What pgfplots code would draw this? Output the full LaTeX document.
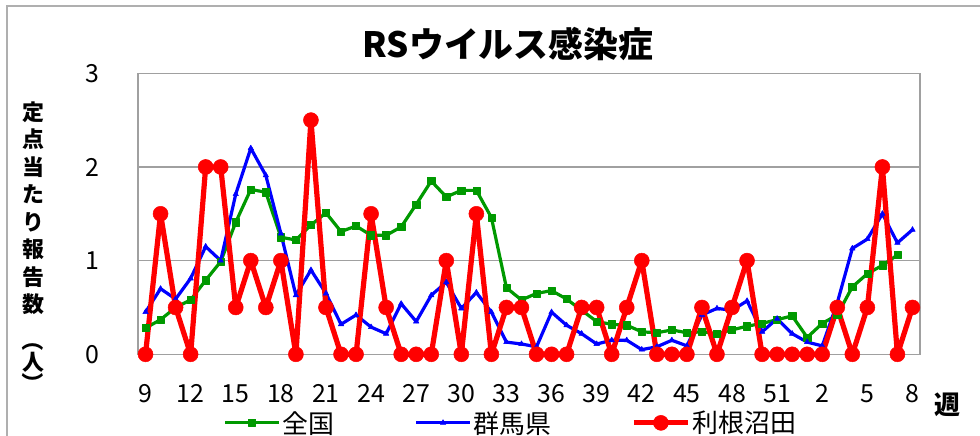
\documentclass[border=0pt]{standalone}
\usepackage{fontspec}
\setmainfont{Noto Sans CJK JP}
\usepackage{pgfplots}
\pgfplotsset{compat=1.18}
\definecolor{cgreen}{RGB}{0,153,0}
\definecolor{cblue}{RGB}{0,0,255}
\definecolor{cred}{RGB}{255,0,0}
\definecolor{cgrid}{RGB}{160,160,160}
\definecolor{cframe}{RGB}{175,175,175}
\begin{document}
\begin{tikzpicture}
\useasboundingbox (0bp,0bp) rectangle (980bp,436bp);
\draw[cframe, line width=1.5bp] (7bp,-5bp) -- (7bp,430bp) -- (990bp,430bp);
\begin{axis}[
  at={(138bp,81.7bp)}, anchor=south west,
  scale only axis, width=782bp, height=281bp,
  xmin=-0.5, xmax=51.5, ymin=0, ymax=3,
  xtick={0,3,...,51},
  xticklabels={9,12,15,18,21,24,27,30,33,36,39,42,45,48,51,2,5,8},
  ytick={0,1,2,3},
  major tick length=0pt,
  ymajorgrids, major grid style={cgrid, line width=1.3bp},
  axis line style={cgrid, line width=1.3bp},
  /pgf/number format/assume math mode=true,
  tick label style={font=\fontsize{25}{25}\selectfont},
  xticklabel style={anchor=center, yshift=-39bp},
  yticklabel style={anchor=center, xshift=-46bp},
  clip=false,
  legend columns=3,
  legend style={at={(axis description cs:0.109,-0.244)}, anchor=west, draw=none, fill=none,
    inner sep=0pt, font=\fontsize{26}{26}\selectfont,
    /tikz/every even column/.append style={column sep=78bp}},
  legend image code/.code={\draw[mark repeat=2,mark phase=2,#1] plot coordinates {(0bp,0bp) (27bp,0bp) (54bp,0bp)};},
]
\addplot[cgreen, line width=3.2bp, line join=round, mark=square*, mark size=3.6bp, mark options={solid, line width=0.5bp}] coordinates {
(0,0.28)(1,0.37)(2,0.50)(3,0.58)(4,0.79)(5,0.99)(6,1.41)(7,1.76)(8,1.73)(9,1.25)
(10,1.22)(11,1.38)(12,1.51)(13,1.31)(14,1.37)(15,1.27)(16,1.27)(17,1.36)(18,1.60)(19,1.85)
(20,1.68)(21,1.75)(22,1.75)(23,1.46)(24,0.71)(25,0.58)(26,0.65)(27,0.68)(28,0.59)(29,0.47)
(30,0.35)(31,0.32)(32,0.31)(33,0.24)(34,0.23)(35,0.26)(36,0.23)(37,0.24)(38,0.22)(39,0.26)
(40,0.30)(41,0.33)(42,0.37)(43,0.41)(44,0.18)(45,0.33)(46,0.42)(47,0.72)(48,0.86)(49,0.95)
(50,1.06)};
\addlegendentry{全国}
\addplot[cblue, line width=3.2bp, line join=round, mark=triangle*, mark size=3.2bp, mark options={solid, line width=0.5bp}] coordinates {
(0,0.45)(1,0.70)(2,0.59)(3,0.81)(4,1.15)(5,1.00)(6,1.71)(7,2.20)(8,1.91)(9,1.29)
(10,0.63)(11,0.90)(12,0.65)(13,0.32)(14,0.42)(15,0.29)(16,0.22)(17,0.54)(18,0.35)(19,0.63)
(20,0.77)(21,0.49)(22,0.66)(23,0.45)(24,0.13)(25,0.11)(26,0.08)(27,0.45)(28,0.31)(29,0.22)
(30,0.11)(31,0.15)(32,0.15)(33,0.05)(34,0.08)(35,0.15)(36,0.09)(37,0.42)(38,0.49)(39,0.47)
(40,0.57)(41,0.24)(42,0.38)(43,0.22)(44,0.13)(45,0.09)(46,0.55)(47,1.13)(48,1.23)(49,1.50)
(50,1.19)(51,1.33)};
\addlegendentry{群馬県}
\addplot[cred, line width=5.2bp, line join=round, mark=*, mark size=7.5bp, mark options={solid, line width=0.5bp}] coordinates {
(0,0)(1,1.5)(2,0.5)(3,0)(4,2)(5,2)(6,0.5)(7,1)(8,0.5)(9,1)
(10,0)(11,2.5)(12,0.5)(13,0)(14,0)(15,1.5)(16,0.5)(17,0)(18,0)(19,0)
(20,1)(21,0)(22,1.5)(23,0)(24,0.5)(25,0.5)(26,0)(27,0)(28,0)(29,0.5)
(30,0.5)(31,0)(32,0.5)(33,1)(34,0)(35,0)(36,0)(37,0.5)(38,0)(39,0.5)
(40,1)(41,0)(42,0)(43,0)(44,0)(45,0)(46,0.5)(47,0)(48,0.5)(49,2)
(50,0)(51,0.5)};
\addlegendentry{利根沼田}
\end{axis}
\node[font=\fontsize{35}{35}\selectfont\bfseries] at (508bp,392bp) {RSウイルス感染症};
\node[font=\fontsize{26}{26}\selectfont\bfseries] at (947bp,31bp) {週};
\begin{scope}[every node/.style={font=\fontsize{22}{22}\selectfont\bfseries, inner sep=0pt}]
\node at (33bp,324bp) {定};
\node at (33bp,296.5bp) {点};
\node at (33bp,269bp) {当};
\node at (33bp,241.5bp) {た};
\node at (33bp,214bp) {り};
\node at (33bp,186.5bp) {報};
\node at (33bp,159bp) {告};
\node at (33bp,131.5bp) {数};
\node[rotate=-90] at (33bp,96bp) {（};
\node at (33bp,74bp) {人};
\node[rotate=-90] at (33bp,53bp) {）};
\end{scope}
\end{tikzpicture}
\end{document}
